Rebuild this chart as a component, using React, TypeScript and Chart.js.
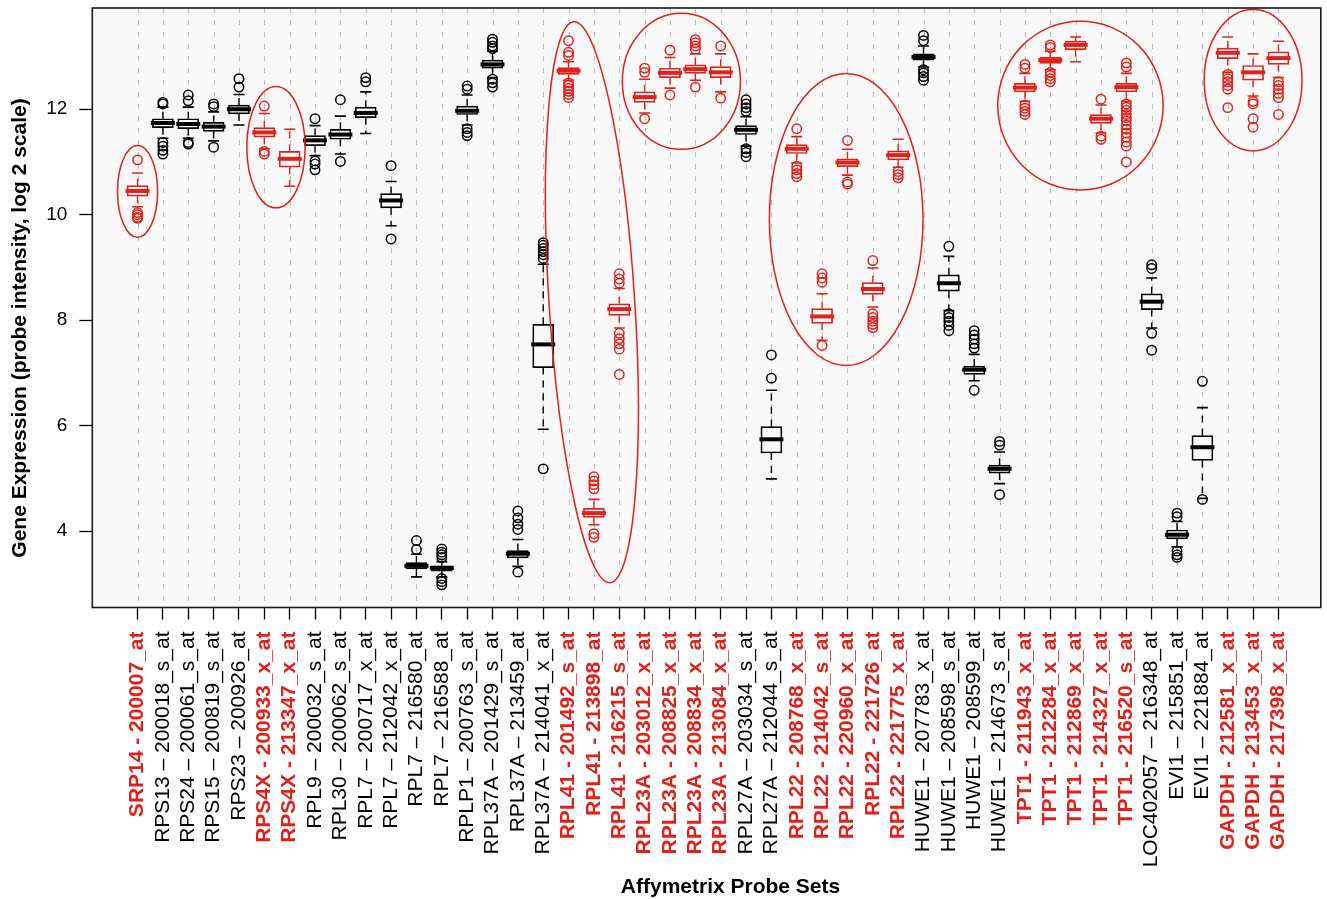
import { useEffect, useRef } from "react";
import { Chart, registerables } from "chart.js";

Chart.register(...registerables);

const FONT = "'Liberation Sans', Arial, Helvetica, sans-serif";
const RED = "#e3211b";
const BLACK = "#000000";
const PLOT_BG = "#f9f9f9";

const probeSets = [
  "SRP14 - 200007_at", "RPS13 – 200018_s_at", "RPS24 – 200061_s_at", "RPS15 – 200819_s_at",
  "RPS23 – 200926_at", "RPS4X - 200933_x_at", "RPS4X - 213347_x_at", "RPL9 – 200032_s_at",
  "RPL30 – 200062_s_at", "RPL7 – 200717_x_at", "RPL7 – 212042_x_at", "RPL7 – 216580_at",
  "RPL7 – 216588_at", "RPLP1 – 200763_s_at", "RPL37A – 201429_s_at", "RPL37A – 213459_at",
  "RPL37A – 214041_x_at", "RPL41 - 201492_s_at", "RPL41 - 213898_at", "RPL41 - 216215_s_at",
  "RPL23A - 203012_x_at", "RPL23A - 208825_x_at", "RPL23A - 208834_x_at", "RPL23A - 213084_x_at",
  "RPL27A – 203034_s_at", "RPL27A – 212044_s_at", "RPL22 - 208768_x_at", "RPL22 - 214042_s_at",
  "RPL22 - 220960_x_at", "RPL22 - 221726_at", "RPL22 - 221775_x_at", "HUWE1 – 207783_x_at",
  "HUWE1 – 208598_s_at", "HUWE1 – 208599_at", "HUWE1 – 214673_s_at", "TPT1 - 211943_x_at",
  "TPT1 - 212284_x_at", "TPT1 - 212869_x_at", "TPT1 - 214327_x_at", "TPT1 - 216520_s_at",
  "LOC402057 – 216348_at", "EVI1 – 215851_at", "EVI1 – 221884_at", "GAPDH - 212581_x_at",
  "GAPDH - 213453_x_at", "GAPDH - 217398_x_at",
];

// 1-based positions of the probe sets drawn in red
const highlighted = [1, 6, 7, 18, 19, 20, 21, 22, 23, 24, 27, 28, 29, 30, 31, 36, 37, 38, 39, 40, 44, 45, 46];

const whiskerLow = [
  10.15, 11.45, 11.45, 11.4, 11.7, 11.25, 10.54, 11.12, 11.15, 11.54, 9.79, 3.13,
  3.13, 11.7, 12.6, 3.33, 5.93, 12.55, 4.12, 7.85, 11.93, 12.4, 12.55, 12.33,
  11.3, 4.99, 10.98, 7.62, 10.75, 8.25, 10.9, 12.8, 8.18, 6.85, 4.9, 12.15,
  12.75, 12.9, 11.55, 12.15, 7.85, 3.7, 4.62, 12.7, 12.25, 12.6,
];
const q1 = [
  10.35, 11.65, 11.63, 11.58, 11.91, 11.47, 10.9, 11.31, 11.43, 11.84, 10.13, 3.28,
  3.24, 11.9, 12.78, 3.49, 7.1, 12.66, 4.26, 8.09, 12.13, 12.6, 12.68, 12.6,
  11.52, 5.48, 11.16, 7.94, 10.91, 8.49, 11.04, 12.93, 8.55, 6.97, 5.1, 12.33,
  12.87, 13.13, 11.73, 12.33, 8.2, 3.85, 5.34, 12.96, 12.55, 12.85,
];
const median = [
  10.45, 11.74, 11.72, 11.67, 12.0, 11.56, 11.06, 11.41, 11.52, 11.93, 10.27, 3.34,
  3.3, 11.97, 12.85, 3.57, 7.54, 12.73, 4.34, 8.21, 12.23, 12.69, 12.76, 12.7,
  11.61, 5.74, 11.25, 8.07, 10.99, 8.59, 11.13, 12.99, 8.7, 7.06, 5.18, 12.41,
  12.93, 13.22, 11.82, 12.42, 8.35, 3.93, 5.59, 13.07, 12.7, 12.97,
];
const q3 = [
  10.55, 11.82, 11.82, 11.75, 12.08, 11.65, 11.2, 11.5, 11.62, 12.04, 10.4, 3.4,
  3.34, 12.06, 12.93, 3.63, 7.92, 12.79, 4.43, 8.31, 12.33, 12.78, 12.84, 12.81,
  11.69, 5.98, 11.33, 8.22, 11.06, 8.71, 11.21, 13.05, 8.86, 7.13, 5.25, 12.49,
  12.99, 13.29, 11.9, 12.49, 8.5, 4.02, 5.81, 13.16, 12.83, 13.09,
];
const whiskerHigh = [
  10.79, 12.04, 12.04, 11.95, 12.28, 11.92, 11.62, 11.69, 11.87, 12.33, 10.63, 3.56,
  3.42, 12.27, 13.1, 3.84, 9.06, 12.9, 4.6, 8.6, 12.57, 12.98, 13.05, 13.05,
  11.86, 6.67, 11.48, 8.5, 11.24, 8.99, 11.43, 13.2, 9.21, 7.35, 5.5, 12.68,
  13.1, 13.37, 12.08, 12.68, 8.8, 4.18, 6.34, 13.37, 13.05, 13.29,
];
const outliers = [
  [11.04, 10.04, 10.0, 9.95, 9.93],
  [12.13, 12.1, 11.37, 11.3, 11.22, 11.15],
  [12.27, 12.16, 11.37, 11.34],
  [12.1, 12.05, 11.28],
  [12.58, 12.42],
  [12.06, 11.2, 11.15],
  [],
  [11.82, 11.02, 10.96, 10.85],
  [12.18, 11.01],
  [12.6, 12.52],
  [10.93, 9.54],
  [3.82, 3.65],
  [3.66, 3.6, 3.55, 3.5, 3.1, 3.04, 2.98],
  [12.44, 12.38, 11.63, 11.56, 11.5],
  [13.33, 13.27, 13.2, 13.15, 12.57, 12.5, 12.42],
  [4.38, 4.25, 4.13, 4.03, 3.22],
  [9.47, 9.42, 9.36, 9.3, 9.24, 9.17, 5.18],
  [13.3, 13.08, 13.02, 12.5, 12.45, 12.4, 12.34, 12.28, 12.22],
  [5.03, 4.95, 4.88, 4.8, 3.95, 3.88],
  [8.88, 8.78, 8.7, 7.75, 7.65, 7.55, 7.45, 6.97],
  [12.78, 12.7, 11.82],
  [13.12, 12.27],
  [13.32, 13.26, 13.2, 13.14, 12.42],
  [13.2, 12.21],
  [12.18, 12.1, 12.03, 11.96, 11.25, 11.18, 11.1],
  [7.34, 6.9],
  [11.63, 10.92, 10.85, 10.78, 10.72],
  [8.88, 8.8, 8.72, 7.52],
  [11.41, 10.62, 10.58],
  [9.13, 8.12, 8.05, 7.98, 7.92, 7.86],
  [10.82, 10.76, 10.7],
  [13.4, 13.3, 12.75, 12.69, 12.62, 12.55],
  [9.4, 8.12, 8.05, 7.98, 7.9, 7.8],
  [7.8, 7.72, 7.64, 7.55, 7.47, 6.67],
  [5.7, 5.63, 4.69],
  [12.85, 12.78, 12.08, 12.02, 11.96, 11.9],
  [13.22, 13.17, 12.7, 12.64, 12.58, 12.52],
  [],
  [12.19, 11.49, 11.43],
  [12.88, 12.8, 12.1, 12.04, 11.98, 11.9, 11.84, 11.78, 11.7, 11.62, 11.55, 11.47, 11.38, 11.3, 11.0],
  [9.05, 8.98, 7.75, 7.43],
  [4.34, 4.27, 3.62, 3.55, 3.5],
  [6.84, 4.6],
  [12.66, 12.58, 12.52, 12.45, 12.38, 12.03],
  [12.15, 12.1, 11.82, 11.66],
  [12.52, 12.45, 12.38, 12.3, 12.22, 11.9],
];

// red rings: centre (probe position, expression), half-widths in the same units, tilt in degrees
const ringX = [1.0, 6.46, 18.92, 22.45, 28.95, 38.19, 45.0];
const ringY = [10.44, 11.28, 8.34, 12.53, 9.91, 12.07, 12.55];
const ringRx = [0.79, 1.15, 1.69, 2.33, 3.03, 3.26, 1.93];
const ringRy = [0.87, 1.15, 5.33, 1.29, 2.77, 1.6, 1.34];
const ringTilt = [0, 0, -3.7, 0, 0, 0, 0];

const yTicks = [4, 6, 8, 10, 12];

const isRed = (pos: number) => highlighted.includes(pos);
const colorAt = (pos: number) => (isRed(pos) ? RED : BLACK);

const boxData = probeSets.map((_, i) => ({ x: i + 1, y: [q1[i], q3[i]] }));
const outlierData = outliers.flatMap((vals, i) => vals.map((v) => ({ x: i + 1, y: v })));

const boxExtras = {
  id: "boxExtras",
  beforeDraw(chart: any) {
    const { ctx, chartArea: a } = chart;
    ctx.save();
    ctx.fillStyle = PLOT_BG;
    ctx.fillRect(a.left, a.top, a.right - a.left, a.bottom - a.top);
    ctx.restore();
  },
  beforeDatasetsDraw(chart: any) {
    const { ctx, chartArea: a, scales } = chart;
    const xs = scales.x;
    const ys = scales.y;
    ctx.save();
    // dashed vertical guides
    ctx.strokeStyle = "#bdbdbd";
    ctx.lineWidth = 1;
    ctx.setLineDash([5, 7]);
    probeSets.forEach((_, i) => {
      const px = Math.round(xs.getPixelForValue(i + 1)) + 0.5;
      ctx.beginPath();
      ctx.moveTo(px, a.top);
      ctx.lineTo(px, a.bottom);
      ctx.stroke();
    });
    // whiskers
    probeSets.forEach((_, i) => {
      const px = xs.getPixelForValue(i + 1);
      const hi = ys.getPixelForValue(whiskerHigh[i]);
      const lo = ys.getPixelForValue(whiskerLow[i]);
      ctx.strokeStyle = colorAt(i + 1);
      ctx.lineWidth = 1.4;
      ctx.setLineDash([7, 6]);
      ctx.beginPath();
      ctx.moveTo(px, ys.getPixelForValue(q3[i]));
      ctx.lineTo(px, hi);
      ctx.moveTo(px, ys.getPixelForValue(q1[i]));
      ctx.lineTo(px, lo);
      ctx.stroke();
      ctx.setLineDash([]);
      ctx.lineWidth = 1.6;
      ctx.beginPath();
      ctx.moveTo(px - 5.5, hi);
      ctx.lineTo(px + 5.5, hi);
      ctx.moveTo(px - 5.5, lo);
      ctx.lineTo(px + 5.5, lo);
      ctx.stroke();
    });
    ctx.restore();
  },
  afterDatasetsDraw(chart: any) {
    const { ctx, scales } = chart;
    const xs = scales.x;
    const ys = scales.y;
    ctx.save();
    ctx.lineWidth = 4;
    probeSets.forEach((_, i) => {
      const px = xs.getPixelForValue(i + 1);
      const py = ys.getPixelForValue(median[i]);
      ctx.strokeStyle = colorAt(i + 1);
      ctx.beginPath();
      ctx.moveTo(px - 12, py);
      ctx.lineTo(px + 12, py);
      ctx.stroke();
    });
    const pxPerX = Math.abs(xs.getPixelForValue(1) - xs.getPixelForValue(0));
    const pxPerY = Math.abs(ys.getPixelForValue(0) - ys.getPixelForValue(1));
    ctx.strokeStyle = RED;
    ctx.lineWidth = 1.5;
    ringX.forEach((cx, k) => {
      ctx.beginPath();
      ctx.ellipse(
        xs.getPixelForValue(cx),
        ys.getPixelForValue(ringY[k]),
        ringRx[k] * pxPerX,
        ringRy[k] * pxPerY,
        (ringTilt[k] * Math.PI) / 180,
        0,
        Math.PI * 2
      );
      ctx.stroke();
    });
    ctx.restore();
  },
  afterDraw(chart: any) {
    const { ctx, chartArea: a } = chart;
    ctx.save();
    ctx.strokeStyle = "#1a1a1a";
    ctx.lineWidth = 1.6;
    ctx.strokeRect(a.left, a.top, a.right - a.left, a.bottom - a.top);
    ctx.fillStyle = BLACK;
    ctx.font = `bold 21px ${FONT}`;
    ctx.textAlign = "center";
    ctx.textBaseline = "alphabetic";
    ctx.fillText("Affymetrix Probe Sets", 730.5, 893);
    ctx.translate(25.5, 328);
    ctx.rotate(-Math.PI / 2);
    ctx.fillText("Gene Expression (probe intensity, log 2 scale)", 0, 0);
    ctx.restore();
  },
};

const ProbeBoxplot = () => {
  const canvasRef = useRef<HTMLCanvasElement | null>(null);

  useEffect(() => {
    document.body.style.margin = "0";
    if (!canvasRef.current) return;

    const chart = new Chart(canvasRef.current, {
      type: "bar",
      data: {
        datasets: [
          {
            type: "bar",
            data: boxData as any,
            backgroundColor: PLOT_BG,
            borderColor: (c: any) => colorAt((c.dataIndex ?? 0) + 1),
            borderWidth: 1.7,
            borderSkipped: false,
            barThickness: 21,
            order: 2,
          },
          {
            type: "scatter",
            data: outlierData as any,
            pointRadius: 4.7,
            pointBorderWidth: 1.5,
            pointBackgroundColor: "rgba(0,0,0,0)",
            pointBorderColor: (c: any) =>
              c.dataIndex !== undefined ? colorAt(outlierData[c.dataIndex].x) : BLACK,
            showLine: false,
            order: 1,
          },
        ],
      },
      options: {
        responsive: true,
        maintainAspectRatio: false,
        animation: false,
        events: [],
        layout: { padding: { top: 8, right: 2, left: 0, bottom: 0 } },
        plugins: {
          legend: { display: false },
          tooltip: { enabled: false },
          title: { display: false },
        },
        scales: {
          x: {
            type: "linear",
            offset: false,
            min: -0.785,
            max: 47.67,
            afterBuildTicks: (s: any) => {
              s.ticks = probeSets.map((_, i) => ({ value: i + 1 }));
            },
            afterFit: (s: any) => {
              s.height = 291.5;
              s.paddingLeft = 0;
              s.paddingRight = 0;
            },
            ticks: {
              autoSkip: false,
              minRotation: 90,
              maxRotation: 90,
              padding: 12,
              callback: (_v: any, index: number) => probeSets[index],
              color: (c: any) => colorAt(c.index + 1),
              font: (c: any) => ({
                family: FONT,
                size: 21,
                weight: isRed(c.index + 1) ? "bold" : "normal",
              }),
            },
            grid: {
              offset: false,
              drawOnChartArea: false,
              drawTicks: true,
              tickLength: 12,
              tickColor: BLACK,
              tickWidth: 1.3,
            },
            border: { display: false },
          },
          y: {
            type: "linear",
            min: 2.55,
            max: 13.92,
            afterBuildTicks: (s: any) => {
              s.ticks = yTicks.map((v) => ({ value: v }));
            },
            afterFit: (s: any) => {
              s.width = 92.3;
              s.paddingTop = 0;
              s.paddingBottom = 0;
            },
            ticks: {
              padding: 12,
              color: BLACK,
              font: { family: FONT, size: 19 },
            },
            grid: {
              drawOnChartArea: false,
              drawTicks: true,
              tickLength: 13,
              tickColor: BLACK,
              tickWidth: 1.3,
            },
            border: { display: false },
          },
        },
      },
      plugins: [boxExtras],
    });

    return () => {
      chart.destroy();
    };
  }, []);

  return (
    <div style={{ position: "relative", width: "1327px", height: "899px", background: "#fff" }}>
      <canvas ref={canvasRef}></canvas>
    </div>
  );
};

export default function App() {
  return <ProbeBoxplot />;
}
